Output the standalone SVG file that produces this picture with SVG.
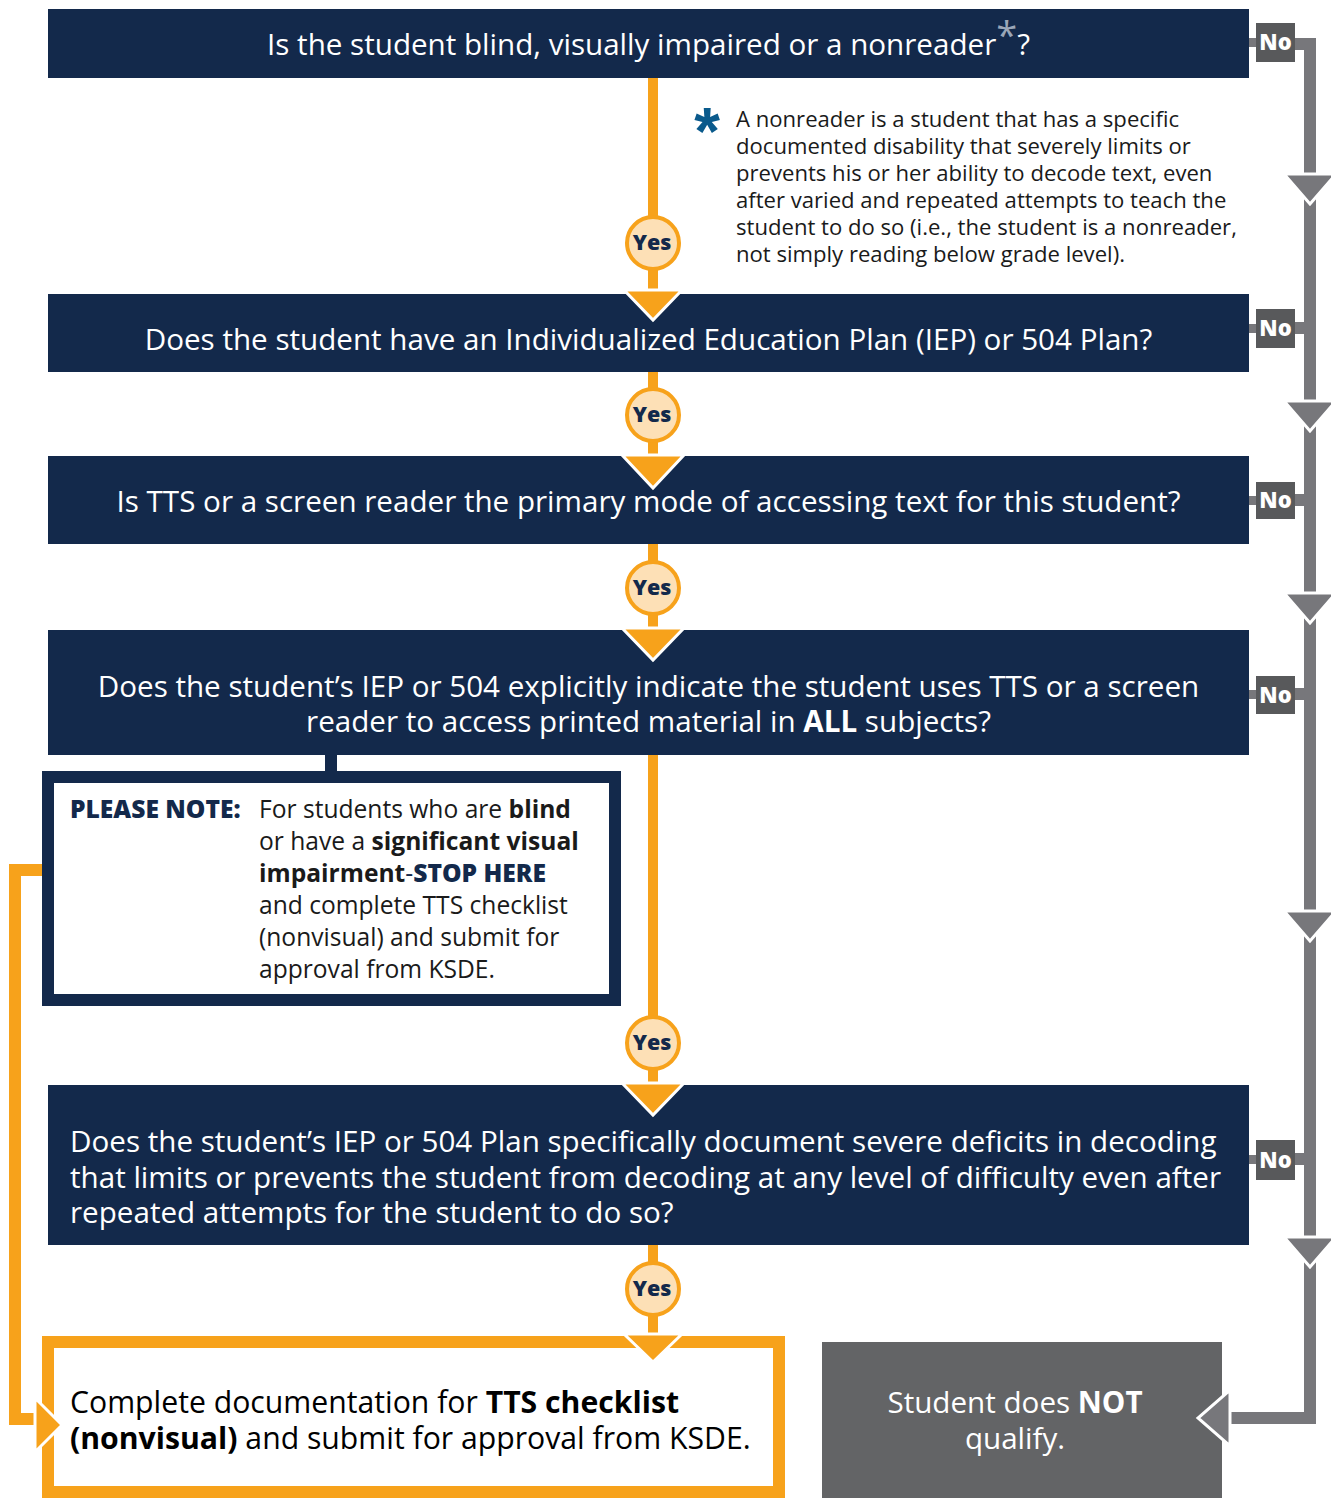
<svg xmlns="http://www.w3.org/2000/svg" width="1331" height="1498" viewBox="0 0 1331 1498">
<defs>
<style>
.box{fill:#13294b}
.qt{font-family:"Open Sans","Noto Sans","Liberation Sans",sans-serif;font-size:29.6px;fill:#ffffff}
.yesc{fill:#fde0b6;stroke:#f7a21b;stroke-width:4}
.yest{font-family:"Open Sans","Noto Sans","Liberation Sans",sans-serif;font-size:21.5px;font-weight:800;fill:#13294b;text-anchor:middle}
.or{fill:#f7a21b}
.oarr{fill:#f7a21b;stroke:#ffffff;stroke-width:3}
.gr{fill:#77777b}
.garr{fill:#77777b;stroke:#ffffff;stroke-width:3}
.nob{fill:#58595b}
.not{font-family:"Open Sans","Noto Sans","Liberation Sans",sans-serif;font-size:22px;font-weight:800;fill:#ffffff;text-anchor:middle}
.note{font-family:"Open Sans","Noto Sans","Liberation Sans",sans-serif;font-size:22.1px;fill:#1a1a1a}
.pn{font-family:"Open Sans","Noto Sans","Liberation Sans",sans-serif;font-size:24.6px;fill:#1a1a1a}
.fin{font-family:"Open Sans","Noto Sans","Liberation Sans",sans-serif;font-size:30.2px;fill:#000000}
.b{font-weight:bold}
</style>
</defs>

<g id="connectors">
  <rect class="or" x="648" y="78" width="10" height="214"/>
  <rect class="or" x="648" y="372" width="10" height="84"/>
  <rect class="or" x="648" y="544" width="10" height="86"/>
  <rect class="or" x="648" y="755" width="10" height="330"/>
  <rect class="or" x="648" y="1245" width="10" height="91"/>
  <rect class="or" x="9" y="864" width="33" height="12"/>
  <rect class="or" x="9" y="864" width="12" height="561"/>
  <rect class="or" x="9" y="1413" width="30" height="12"/>
  <rect class="box" x="325" y="755" width="12" height="18"/>
  <rect class="gr" x="1304" y="38" width="12" height="1386"/>
  <rect class="gr" x="1228" y="1412" width="88" height="12"/>
  <rect class="gr" x="1249" y="38" width="8" height="9"/>
  <rect class="gr" x="1294" y="38" width="12" height="12"/>
  <rect class="gr" x="1249" y="324" width="8" height="9"/>
  <rect class="gr" x="1294" y="322" width="12" height="12"/>
  <rect class="gr" x="1249" y="496" width="8" height="9"/>
  <rect class="gr" x="1294" y="494" width="12" height="12"/>
  <rect class="gr" x="1249" y="690" width="8" height="9"/>
  <rect class="gr" x="1294" y="688" width="12" height="12"/>
  <rect class="gr" x="1249" y="1155" width="8" height="9"/>
  <rect class="gr" x="1294" y="1153" width="12" height="12"/>
  <polygon class="garr" points="1284,174 1336,174 1310,204"/>
  <polygon class="garr" points="1284,401 1336,401 1310,431"/>
  <polygon class="garr" points="1284,593 1336,593 1310,623"/>
  <polygon class="garr" points="1284,911 1336,911 1310,941"/>
  <polygon class="garr" points="1284,1237 1336,1237 1310,1267"/>
</g>

<g id="q1">
  <rect class="box" x="48" y="9" width="1201" height="69"/>
  <text class="qt" x="648.5" y="55" text-anchor="middle">Is the student blind, visually impaired or a nonreader<tspan fill="#9aa6b8" font-size="38" dy="-6">*</tspan><tspan dy="6">?</tspan></text>
</g>
<g id="footnote">
  <text x="707" y="154" font-family="'Liberation Sans',sans-serif" font-size="66" font-weight="bold" fill="#0a5a8c" text-anchor="middle">*</text>
  <text class="note" x="736" y="127">A nonreader is a student that has a specific</text>
  <text class="note" x="736" y="154">documented disability that severely limits or</text>
  <text class="note" x="736" y="181">prevents his or her ability to decode text, even</text>
  <text class="note" x="736" y="208">after varied and repeated attempts to teach the</text>
  <text class="note" x="736" y="235">student to do so (i.e., the student is a nonreader,</text>
  <text class="note" x="736" y="262">not simply reading below grade level).</text>
</g>
<g id="q2">
  <rect class="box" x="48" y="294" width="1201" height="78"/>
  <text class="qt" x="648.5" y="350" text-anchor="middle">Does the student have an Individualized Education Plan (IEP) or 504 Plan?</text>
</g>
<g id="q3">
  <rect class="box" x="48" y="456" width="1201" height="88"/>
  <text class="qt" x="648.5" y="512" text-anchor="middle">Is TTS or a screen reader the primary mode of accessing text for this student?</text>
</g>
<g id="q4">
  <rect class="box" x="48" y="630" width="1201" height="125"/>
  <text class="qt" x="648.5" y="697" text-anchor="middle">Does the student’s IEP or 504 explicitly indicate the student uses TTS or a screen</text>
  <text class="qt" x="648.5" y="732" text-anchor="middle">reader to access printed material in <tspan class="b">ALL</tspan> subjects?</text>
</g>
<g id="q5">
  <rect class="box" x="48" y="1085" width="1201" height="160"/>
  <text class="qt" x="70" y="1152">Does the student’s IEP or 504 Plan specifically document severe deficits in decoding</text>
  <text class="qt" x="70" y="1188">that limits or prevents the student from decoding at any level of difficulty even after</text>
  <text class="qt" x="70" y="1223">repeated attempts for the student to do so?</text>
</g>

<g id="please-note">
  <rect x="48" y="777" width="567" height="223" fill="#ffffff" stroke="#13294b" stroke-width="12"/>
  <text class="pn" x="70" y="818" font-weight="800" font-size="25" style="fill:#13294b">PLEASE NOTE:</text>
  <text class="pn" x="259" y="818">For students who are <tspan class="b">blind</tspan></text>
  <text class="pn" x="259" y="850">or have a <tspan class="b">significant visual</tspan></text>
  <text class="pn" x="259" y="882"><tspan class="b">impairment</tspan><tspan fill="#13294b">-</tspan><tspan font-weight="800" fill="#13294b">STOP HERE</tspan></text>
  <text class="pn" x="259" y="914">and complete TTS checklist</text>
  <text class="pn" x="259" y="946">(nonvisual) and submit for</text>
  <text class="pn" x="259" y="978">approval from KSDE.</text>
</g>

<g id="final">
  <rect x="48" y="1342" width="731" height="150" fill="#ffffff" stroke="#f7a21b" stroke-width="12"/>
  <text class="fin" x="70" y="1413">Complete documentation for <tspan class="b">TTS checklist</tspan></text>
  <text class="fin" x="70" y="1449"><tspan class="b">(nonvisual)</tspan> and submit for approval from KSDE.</text>
</g>

<g id="not-qualify">
  <rect x="822" y="1342" width="400" height="156" fill="#636466"/>
  <text class="qt" x="1015" y="1413" text-anchor="middle">Student does <tspan class="b">NOT</tspan></text>
  <text class="qt" x="1015" y="1449" text-anchor="middle">qualify.</text>
</g>

<g id="no-labels">
  <rect class="nob" x="1256" y="23" width="39" height="39"/><text class="not" x="1275.5" y="50">No</text>
  <rect class="nob" x="1256" y="309" width="39" height="39"/><text class="not" x="1275.5" y="336">No</text>
  <rect class="nob" x="1256" y="482" width="39" height="37"/><text class="not" x="1275.5" y="508">No</text>
  <rect class="nob" x="1256" y="676" width="39" height="38"/><text class="not" x="1275.5" y="703">No</text>
  <rect class="nob" x="1256" y="1140" width="39" height="40"/><text class="not" x="1275.5" y="1168">No</text>
</g>

<g id="yes-markers">
  <circle class="yesc" cx="653" cy="243" r="26"/><text class="yest" x="652" y="250">Yes</text>
  <circle class="yesc" cx="653" cy="415" r="26"/><text class="yest" x="652" y="422">Yes</text>
  <circle class="yesc" cx="653" cy="588" r="26"/><text class="yest" x="652" y="595">Yes</text>
  <circle class="yesc" cx="653" cy="1043" r="26"/><text class="yest" x="652" y="1050">Yes</text>
  <circle class="yesc" cx="653" cy="1289" r="26"/><text class="yest" x="652" y="1296">Yes</text>
</g>

<g id="arrowheads">
  <polygon class="oarr" points="624,290 682,290 653,320"/>
  <polygon class="oarr" points="622,455 684,455 653,488"/>
  <polygon class="oarr" points="622,628 684,628 653,660"/>
  <polygon class="oarr" points="622,1083 684,1083 653,1115"/>
  <polygon class="oarr" points="624,1334 682,1334 653,1362"/>
  <polygon class="oarr" points="35,1398 35,1452 62,1425"/>
  <polygon class="garr" points="1230,1390 1230,1446 1198,1418"/>
</g>
</svg>
